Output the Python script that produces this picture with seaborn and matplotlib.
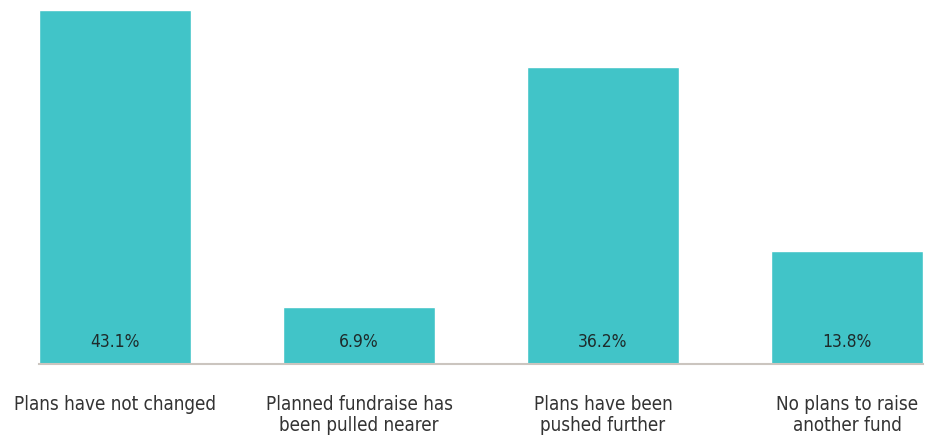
import matplotlib
matplotlib.use("Agg")
import matplotlib.pyplot as plt
import seaborn as sns
import pandas as pd

categories = [
    "Plans have not changed",
    "Planned fundraise has\nbeen pulled nearer",
    "Plans have been\npushed further",
    "No plans to raise\nanother fund",
]
shares = [43.1, 6.9, 36.2, 13.8]
value_labels = ["43.1%", "6.9%", "36.2%", "13.8%"]

sns.set_theme(style="white")
plt.rcParams["font.family"] = ["DejaVu Sans"]
plt.rcParams["font.stretch"] = "condensed"

df = pd.DataFrame({"category": categories, "share": shares})

fig = plt.figure(figsize=(9.35, 4.38), dpi=100)
ax = fig.add_axes([39 / 935, 74 / 438, (923 - 39) / 935, (364 - 10) / 438])

sns.barplot(data=df, x="category", y="share", color="#41C4C8",
            saturation=1, width=0.623, ax=ax)

ax.set_xlim(-0.3115, 3.3115)
ax.set_ylim(0, 43.1)

for i, (v, lab) in enumerate(zip(shares, value_labels)):
    ax.text(i, 2.7, lab, ha="center", va="center", fontsize=12.5,
            color="#1e2b2b")

for s in ["top", "right", "left"]:
    ax.spines[s].set_visible(False)
ax.spines["bottom"].set_color("#cbc5bf")
ax.spines["bottom"].set_linewidth(1.5)

ax.set_yticks([])
ax.set_xlabel("")
ax.set_ylabel("")
ax.tick_params(axis="x", length=0, pad=22, labelsize=13.5, colors="#333333")
for t in ax.get_xticklabels():
    t.set_linespacing(1.17)
    t.set_verticalalignment("top")

fig.savefig("out.png", dpi=100, facecolor="white")
